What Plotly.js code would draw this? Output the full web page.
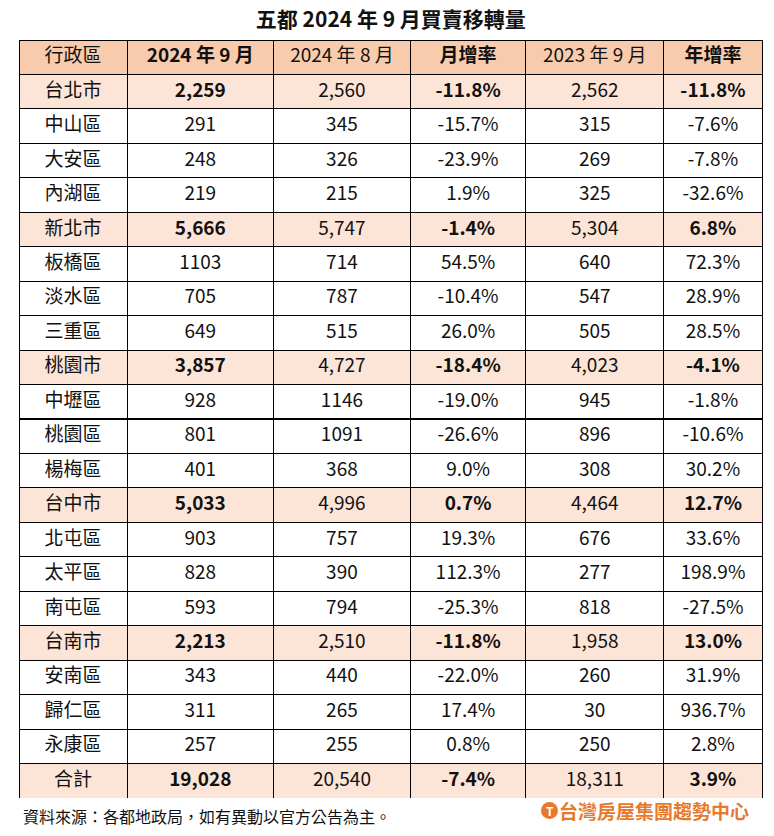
<!DOCTYPE html>
<html><head><meta charset="utf-8">
<script src="https://cdn.plot.ly/plotly-3.0.1.min.js"></script>
<style>body{margin:0;background:#fff}#chart{width:774px;height:836px}</style>
</head><body><div id="chart"></div>
<script>
const districts = ["台北市","中山區","大安區","內湖區","新北市","板橋區","淡水區","三重區","桃園市","中壢區","桃園區","楊梅區","台中市","北屯區","太平區","南屯區","台南市","安南區","歸仁區","永康區","合計"];
const isCity = [1,0,0,0,1,0,0,0,1,0,0,0,1,0,0,0,1,0,0,0,1];
const sep2024 = [2259,291,248,219,5666,1103,705,649,3857,928,801,401,5033,903,828,593,2213,343,311,257,19028];
const aug2024 = [2560,345,326,215,5747,714,787,515,4727,1146,1091,368,4996,757,390,794,2510,440,265,255,20540];
const momRate = [-11.8,-15.7,-23.9,1.9,-1.4,54.5,-10.4,26.0,-18.4,-19.0,-26.6,9.0,0.7,19.3,112.3,-25.3,-11.8,-22.0,17.4,0.8,-7.4];
const sep2023 = [2562,315,269,325,5304,640,547,505,4023,945,896,308,4464,676,277,818,1958,260,30,250,18311];
const yoyRate = [-11.8,-7.6,-7.8,-32.6,6.8,72.3,28.9,28.5,-4.1,-1.8,-10.6,30.2,12.7,33.6,198.9,-27.5,13.0,31.9,936.7,2.8,3.9];
const headers = ["行政區","2024 年 9 月","2024 年 8 月","月增率","2023 年 9 月","年增率"];
const headerBold = [0,1,0,1,0,1];

(function(){
const fmtNum = (v,i)=> isCity[i] ? v.toLocaleString('en-US') : String(v);
const fmtPct = v => v.toFixed(1) + '%';

const col0 = districts.slice();
const col1 = sep2024.map((v,i)=>fmtNum(v,i));
const col2 = aug2024.map((v,i)=>fmtNum(v,i));
const col3 = momRate.map(fmtPct);
const col4 = sep2023.map((v,i)=>fmtNum(v,i));
const col5 = yoyRate.map(fmtPct);

const rowFill = isCity.map(c=> c ? '#FCE4D6' : '#FFFFFF');
const boldW = isCity.map(c=> c ? 'bold' : 'normal');
const normW = isCity.map(()=> 'normal');
const W = 774, H = 836;
const tTop = 40, tBottom = 798;
const rowH = (tBottom-tTop)/22;

const font = "Noto Sans CJK TC, Noto Sans, sans-serif";
const trace = {
  type:'table',
  domain:{x:[19/W, 762/W], y:[1-tBottom/H, 1-tTop/H]},
  columnwidth:[108,146,137,115,138,98],
  header:{
    values: headers,
    fill:{color:'#F8CBAD'},
    line:{color:'#000', width:1},
    align:'center',
    height: rowH,
    font:{family:font, size:19, color:'#111', weight: headerBold.map(x=> x ? 'bold':'normal')}
  },
  cells:{
    values:[col0,col1,col2,col3,col4,col5],
    fill:{color:[rowFill,rowFill,rowFill,rowFill,rowFill,rowFill]},
    line:{color:'#000', width:1},
    align:'center',
    height: rowH,
    font:{family:font, size:19, color:'#111', weight:[normW,boldW,normW,boldW,normW,boldW]}
  }
};

const layout = {
  width:W, height:H,
  margin:{l:0,r:0,t:0,b:0},
  paper_bgcolor:'#fff',
  title:{text:'<b>五都 2024 年 9 月買賣移轉量</b>', x:0.505, xanchor:'center', y:1-20/H, yanchor:'middle',
         font:{family:font, size:21, color:'#111'}},
  shapes:[
    {type:'circle', xref:'paper', yref:'paper', x0:541/W, x1:558/W, y0:1-819/H, y1:1-802/H,
     fillcolor:'#E8792B', line:{width:0}}
  ],
  annotations:[
    {text:'資料來源：各都地政局，如有異動以官方公告為主。', xref:'paper', yref:'paper',
     x:21/W, y:1-816/H, xanchor:'left', yanchor:'middle', showarrow:false,
     font:{family:font, size:16, color:'#111'}},
    {text:'<b>T</b>', xref:'paper', yref:'paper', x:549.5/W, y:1-810.5/H, xanchor:'center', yanchor:'middle',
     showarrow:false, font:{family:font, size:12, color:'#fff'}},
    {text:'<b>台灣房屋集團趨勢中心</b>', xref:'paper', yref:'paper',
     x:557/W, y:1-810/H, xanchor:'left', yanchor:'middle', showarrow:false,
     font:{family:font, size:19, color:'#E8792B'}}
  ]
};
Plotly.newPlot('chart',[trace],layout,{displayModeBar:false});
})();
</script></body></html>
